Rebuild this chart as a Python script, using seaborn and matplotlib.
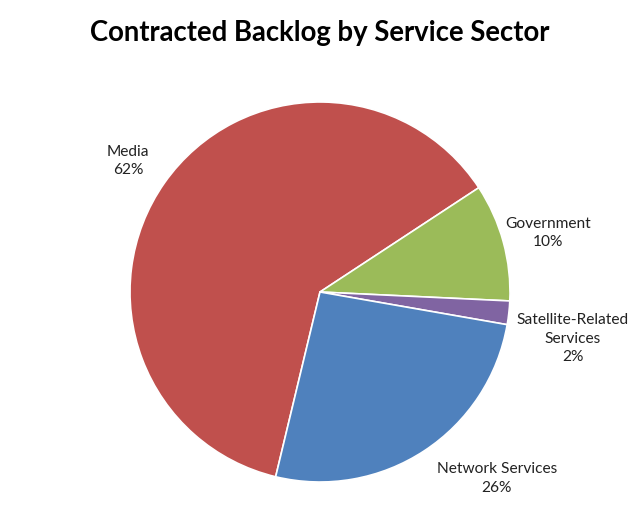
import matplotlib
matplotlib.use("Agg")
import matplotlib.pyplot as plt
import seaborn as sns
import numpy as np

sns.set_theme(style="white")
plt.rcParams['font.family'] = ['Lato', 'DejaVu Sans']

categories = ["Media", "Government", "Satellite-Related\nServices", "Network Services"]
values = [62, 10, 2, 26]
colors = ["#C0504D", "#9BBB59", "#8064A2", "#4F81BD"]
label_pos = [(-1.01, 0.69), (1.20, 0.31), (1.33, -0.245), (0.93, -0.98)]

fig = plt.figure(figsize=(6.39, 5.29), dpi=100)
ax = fig.add_axes([130/639, 47/529, 380/639, 380/529])
wedges, _ = ax.pie(values, colors=colors, startangle=256.5, counterclock=False,
                   wedgeprops=dict(edgecolor="white", linewidth=1.2), radius=1)
ax.set_xlim(-1, 1)
ax.set_ylim(-1, 1)
ax.set_aspect("equal")
for cat, v, (x, y) in zip(categories, values, label_pos):
    ax.text(x, y, f"{cat}\n{v}%", ha="center", va="center", fontsize=11.2,
            color="#222222", linespacing=1.42, clip_on=False)

fig.text(0.5, 1 - 33/529, "Contracted Backlog by Service Sector", ha="center", va="center",
         fontsize=19.8, fontweight="bold", color="black")
fig.savefig("out.png", dpi=100, facecolor="white")
